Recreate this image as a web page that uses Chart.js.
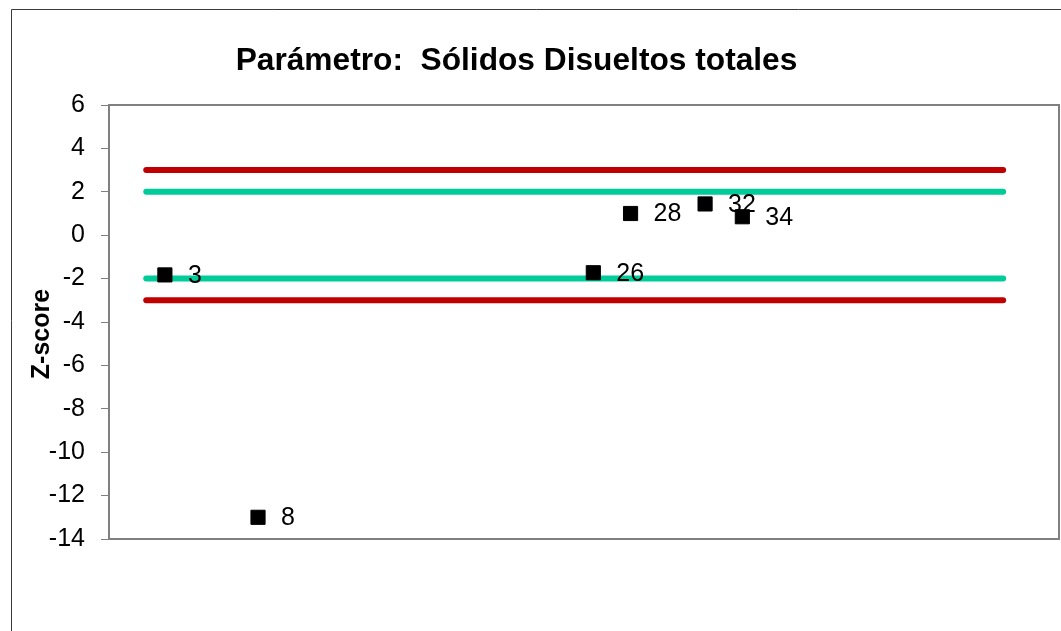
<!DOCTYPE html>
<html>
<head>
<meta charset="utf-8">
<script src="https://cdn.jsdelivr.net/npm/chart.js@4/dist/chart.umd.min.js"></script>
<style>
  html, body { margin: 0; padding: 0; background: #fff; }
  #wrap { width: 1061px; height: 631px; }
</style>
</head>
<body>
<div id="wrap"><canvas id="myChart" width="1061" height="631"></canvas></div>
<script>
/* ------------------------------ Données ------------------------------ */
const labos = [3, 8, 26, 28, 32, 34];
const zscores = [-1.83, -13.0, -1.73, 1.0, 1.44, 0.85];

const limiteX = [2, 48];          // étendue des lignes de contrôle
const limiteAlerte = [2, -2];     // |z| = 2
const limiteAction = [3, -3];     // |z| = 3

const yTicks = [6, 4, 2, 0, -2, -4, -6, -8, -10, -12, -14];

const titre = 'Parámetro:  Sólidos Disueltos totales';
const titreY = 'Z-score';
const FONT = "'Liberation Sans', Arial, sans-serif";

/* ------------------------------ Plugins ------------------------------ */
const cadre = {
    id: 'cadre',
    beforeDraw(chart) {
        const ctx = chart.ctx;
        const a = chart.chartArea;
        ctx.save();
        ctx.fillStyle = '#fff';
        ctx.fillRect(0, 0, chart.width, chart.height);
        // cadre extérieur
        ctx.strokeStyle = '#3a3a3a';
        ctx.lineWidth = 1;
        ctx.beginPath();
        ctx.moveTo(11.5, chart.height);
        ctx.lineTo(11.5, 9.5);
        ctx.lineTo(chart.width, 9.5);
        ctx.stroke();
        // titre
        ctx.fillStyle = '#000';
        ctx.font = 'bold 31.7px ' + FONT;
        ctx.textAlign = 'center';
        ctx.textBaseline = 'alphabetic';
        ctx.fillText(titre, 516.5, 70);
        // titre de l'axe Y
        ctx.translate(42.5, (a.top + a.bottom) / 2 + 12);
        ctx.rotate(-Math.PI / 2);
        ctx.font = 'bold 25px ' + FONT;
        ctx.textBaseline = 'middle';
        ctx.fillText(titreY, 0, 0);
        ctx.restore();
    },
    beforeDatasetsDraw(chart) {
        const {ctx, chartArea: a} = chart;
        ctx.save();
        ctx.strokeStyle = '#808080';
        ctx.lineWidth = 2;
        ctx.strokeRect(a.left, a.top, a.right - a.left, a.bottom - a.top);
        ctx.restore();
    }
};

const etiquettes = {
    id: 'etiquettes',
    afterDatasetsDraw(chart) {
        const ctx = chart.ctx;
        const meta = chart.getDatasetMeta(0);
        ctx.save();
        ctx.fillStyle = '#000';
        ctx.font = '25px ' + FONT;
        ctx.textAlign = 'left';
        ctx.textBaseline = 'middle';
        meta.data.forEach((pt, i) => {
            ctx.fillText(String(labos[i]), pt.x + 23, pt.y + 1);
        });
        ctx.restore();
    }
};

/* ------------------------------ Graphique ------------------------------ */
function ligne(y, couleur) {
    return {
        type: 'line',
        data: limiteX.map(x => ({x: x, y: y})),
        borderColor: couleur,
        borderWidth: 6,
        borderCapStyle: 'round',
        pointRadius: 0,
        fill: false,
        tension: 0
    };
}

const data = {
    datasets: [
        {
            type: 'scatter',
            data: labos.map((l, i) => ({x: l, y: zscores[i]})),
            pointStyle: 'rect',
            pointRadius: 10,
            backgroundColor: '#000',
            borderColor: '#000',
            borderWidth: 1
        },
        ligne(limiteAlerte[0], '#00CC99'),
        ligne(limiteAlerte[1], '#00CC99'),
        ligne(limiteAction[0], '#C00000'),
        ligne(limiteAction[1], '#C00000')
    ]
};

const config = {
    type: 'scatter',
    data: data,
    options: {
        responsive: false,
        animation: false,
        layout: {
            autoPadding: false,
            padding: { left: 0, top: 105, right: 2, bottom: 92 }
        },
        plugins: {
            legend: { display: false },
            tooltip: { enabled: false },
            title: { display: false }
        },
        scales: {
            x: {
                type: 'linear',
                display: false,
                min: 0,
                max: 51
            },
            y: {
                type: 'linear',
                min: -14,
                max: 6,
                afterFit: s => { s.width = 109; },
                afterBuildTicks: s => { s.ticks = yTicks.map(v => ({value: v})); },
                border: { display: false },
                grid: {
                    drawOnChartArea: false,
                    drawTicks: true,
                    tickLength: 8,
                    color: '#808080',
                    lineWidth: 1
                },
                ticks: {
                    padding: 16,
                    color: '#000',
                    font: { family: FONT, size: 25 }
                }
            }
        }
    },
    plugins: [cadre, etiquettes]
};

const myChart = new Chart(document.getElementById('myChart'), config);
</script>
</body>
</html>
